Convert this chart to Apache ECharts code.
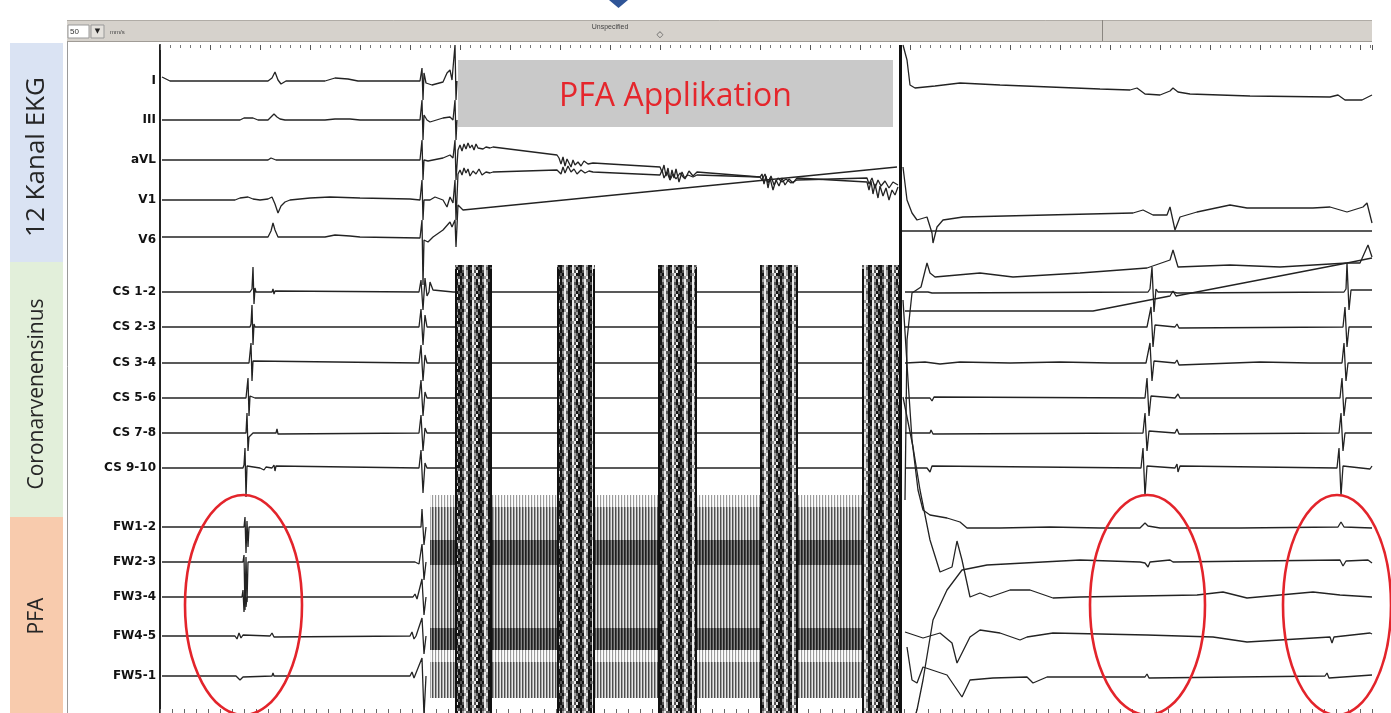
<!DOCTYPE html>
<html><head><meta charset="utf-8">
<script src="https://cdn.jsdelivr.net/npm/echarts@6/dist/echarts.min.js"></script>
<style>html,body{margin:0;padding:0;background:#fff;}#c{width:1391px;height:713px;}</style>
</head><body><div id="c"></div>
<script>
// ---------- DATA (time in ms, amplitude in display units, '-' = gap) ----------
const channelNames = ['I','III','aVL','V1','V6','CS 1-2','CS 2-3','CS 3-4','CS 5-6','CS 7-8','CS 9-10','FW1-2','FW2-3','FW3-4','FW4-5','FW5-1'];
const groupNames = ['12 Kanal EKG','Coronarvenensinus','PFA'];

const ch_I = [[4,4],[20,0],[216,0],[224,3],[230,9],[236,1],[242,-3],[252,0],[330,0],[350,3],[376,2],[396,0],[520,0],[524,13],[526,-19],[528,8],[532,-2],[536,-2],[544,-4],[566,-1],[574,8],[580,11],[584,1],[588,0],[590,36],[592,-19],[594,0],[596,'-'],[1486,36],[1494,21],[1500,-4],[1510,-7],[1550,-5],[1600,-2],[1680,-4],[1780,-6],[1880,-8],[1940,-9],[1954,-7],[1970,-13],[2000,-14],[2020,-10],[2026,-7],[2036,-11],[2060,-13],[2180,-15],[2340,-16],[2356,-14],[2370,-19],[2404,-19],[2424,-14]];
const ch_III = [[4,0],[160,0],[168,2],[186,2],[196,0],[216,0],[222,3],[228,6],[234,3],[240,1],[250,0],[330,0],[350,1],[380,1],[400,0],[520,0],[524,20],[526,-20],[528,5],[534,0],[540,-2],[566,2],[580,3],[586,0],[590,20],[592,-20],[594,0],[596,'-'],[1482,-111],[2424,-111]];
const ch_aVL = [[4,0],[216,0],[222,2],[226,3],[232,0],[520,0],[524,20],[526,-20],[528,0],[536,-1],[566,2],[580,5],[586,2],[590,20],[592,-20],[596,10],[600,15],[604,9],[608,16],[612,11],[616,17],[620,12],[624,15],[628,10],[632,16],[636,12],[640,14],[646,11],[652,13],[660,12],[666,13],[794,5],[798,2],[802,-4],[806,3],[810,-6],[814,1],[818,-3],[822,-7],[826,0],[830,-5],[836,-2],[842,-6],[848,-1],[856,-4],[866,-3],[1000,-7],[1004,-12],[1008,-5],[1012,-16],[1016,-8],[1020,-20],[1024,-10],[1028,-18],[1032,-9],[1038,-22],[1044,-12],[1050,-19],[1058,-11],[1066,-16],[1074,-12],[1200,-17],[1204,-14],[1208,-24],[1212,-16],[1216,-28],[1220,-18],[1226,-30],[1232,-20],[1238,-26],[1244,-18],[1250,-25],[1258,-19],[1266,-23],[1274,-18],[1414,-22],[1418,-30],[1422,-21],[1426,-34],[1430,-24],[1436,-38],[1440,-26],[1446,-36],[1452,-28],[1458,-40],[1464,-30],[1470,-35],[1476,-27],[1478,'-'],[1490,-151],[1866,-151],[2020,-136],[2026,-131],[2032,-136],[2374,-103],[2424,-98]];
const ch_V1 = [[4,0],[150,0],[160,2],[176,3],[186,1],[200,0],[216,1],[224,3],[230,-4],[236,-13],[242,-6],[250,-2],[260,0],[300,2],[340,3],[400,2],[500,1],[520,0],[524,20],[526,-20],[528,0],[540,0],[550,3],[566,0],[574,-7],[580,3],[586,-3],[590,20],[592,-20],[596,26],[600,30],[604,25],[608,32],[612,27],[616,31],[620,24],[626,29],[632,26],[638,31],[644,25],[652,28],[660,27],[666,28],[794,30],[798,32],[802,26],[806,33],[810,27],[816,34],[822,28],[828,31],[834,26],[842,30],[850,27],[858,29],[866,28],[1000,25],[1004,30],[1008,22],[1014,28],[1020,20],[1026,26],[1032,21],[1040,27],[1048,22],[1056,25],[1066,23],[1074,25],[1200,23],[1204,20],[1210,26],[1216,17],[1222,24],[1228,15],[1236,22],[1244,18],[1252,21],[1262,17],[1274,20],[1414,22],[1418,16],[1424,22],[1430,12],[1436,20],[1442,14],[1450,19],[1458,12],[1466,18],[1476,15],[1478,'-'],[1486,33],[1494,0],[1504,-13],[1514,-20],[1534,-17],[1544,-33],[1546,-43],[1554,-27],[1566,-20],[1606,-17],[1774,-15],[1946,-13],[1966,-10],[1986,-15],[2014,-15],[2020,-7],[2030,-30],[2040,-17],[2074,-12],[2140,-5],[2174,-8],[2306,-8],[2340,-7],[2374,-12],[2406,-7],[2414,-3],[2424,-23]];
const ch_V6 = [[4,3],[216,3],[222,9],[226,17],[230,10],[236,3],[240,1],[250,3],[330,3],[350,5],[380,4],[400,3],[520,2],[524,20],[526,-45],[528,0],[536,-2],[546,3],[566,10],[580,18],[584,13],[588,12],[590,20],[592,-7],[596,35],[606,30],[1474,73],[1478,'-'],[1490,-260],[1494,-100],[1504,-53],[1522,-47],[1534,-23],[1540,-33],[1550,-37],[1640,-33],[1706,-37],[1840,-33],[1974,-28],[2020,-20],[2026,-10],[2036,-27],[2140,-25],[2240,-27],[2374,-23],[2400,-23],[2416,-5],[2424,-17]];
const ch_CS12 = [[4,0],[180,0],[184,3],[186,25],[188,-12],[190,4],[192,0],[224,0],[226,3],[228,-2],[230,1],[234,0],[518,0],[522,12],[526,-18],[530,14],[534,-4],[538,0],[540,10],[546,2],[586,0],[1476,0],[1478,'-'],[1490,0],[1536,0],[1540,2],[1544,-1],[1548,0],[1976,0],[1980,3],[1984,25],[1988,-20],[1992,3],[1996,0],[2026,0],[2030,2],[2034,-1],[2038,0],[2368,0],[2372,3],[2374,29],[2378,-18],[2382,2],[2386,0],[2424,2]];
const ch_CS23 = [[4,0],[180,0],[182,3],[184,22],[186,-18],[188,3],[190,0],[228,0],[230,2],[232,-1],[234,0],[518,0],[522,18],[526,-18],[530,12],[534,0],[1476,0],[1478,'-'],[1490,0],[1974,0],[1978,2],[1982,20],[1986,-20],[1990,2],[1994,0],[2030,0],[2034,3],[2038,-1],[2040,0],[2366,0],[2370,20],[2374,-20],[2378,0],[2424,0]];
const ch_CS34 = [[4,0],[178,0],[180,2],[182,20],[184,-18],[186,2],[188,0],[518,0],[522,18],[526,-18],[530,8],[534,0],[1476,0],[1478,'-'],[1490,0],[1530,1],[1560,-1],[1600,1],[1700,0],[1800,1],[1900,0],[1972,0],[1976,2],[1980,20],[1984,-18],[1988,2],[1992,0],[2030,0],[2034,3],[2038,-2],[2042,0],[2200,1],[2300,0],[2364,0],[2368,20],[2372,-18],[2376,0],[2424,0]];
const ch_CS56 = [[4,0],[172,0],[174,2],[176,20],[178,-18],[180,2],[182,0],[190,0],[192,2],[194,0],[518,0],[522,18],[526,-18],[530,6],[534,0],[1476,0],[1478,'-'],[1490,0],[1540,0],[1544,-3],[1548,1],[1552,0],[1970,0],[1974,20],[1978,-18],[1982,2],[1986,0],[2030,0],[2034,-2],[2036,4],[2040,0],[2360,0],[2364,20],[2368,-18],[2372,0],[2424,0]];
const ch_CS78 = [[4,0],[172,0],[174,20],[176,-18],[178,-4],[182,-2],[186,0],[232,0],[234,4],[236,-1],[238,0],[518,0],[522,18],[526,-18],[530,5],[534,0],[1476,0],[1478,'-'],[1490,0],[1540,0],[1542,3],[1546,-1],[1550,0],[1966,0],[1970,20],[1974,-18],[1978,2],[1982,0],[2030,0],[2034,4],[2038,-1],[2042,0],[2358,0],[2362,20],[2366,-18],[2370,0],[2424,0]];
const ch_CS910 = [[4,0],[166,0],[168,3],[170,20],[172,-29],[174,2],[176,0],[200,0],[204,1],[208,-2],[212,1],[216,0],[224,0],[228,3],[230,-3],[232,2],[236,0],[518,0],[522,18],[526,-25],[530,5],[534,0],[1476,0],[1478,'-'],[1490,0],[1534,0],[1540,-4],[1544,2],[1548,0],[1962,0],[1966,20],[1970,-28],[1974,2],[1978,0],[2030,0],[2034,4],[2036,-4],[2040,2],[2044,0],[2354,0],[2358,20],[2362,-28],[2366,2],[2370,0],[2420,-1],[2424,2]];
const ch_FW12 = [[4,0],[168,0],[170,10],[172,-26],[174,6],[176,-20],[178,0],[516,0],[522,0],[524,18],[528,-18],[532,0],[536,'-'],[1486,227],[1496,147],[1504,87],[1516,37],[1526,17],[1540,12],[1574,9],[1600,5],[1614,-1],[1680,-1],[1780,0],[1880,-1],[1960,-1],[1970,4],[1976,1],[2000,-1],[2160,-1],[2356,0],[2362,5],[2368,0],[2424,-1]];
const ch_FW23 = [[4,0],[166,0],[168,7],[170,-48],[172,5],[174,-40],[176,0],[224,0],[226,2],[228,-1],[230,0],[510,0],[514,2],[518,-2],[520,0],[524,18],[528,-18],[532,0],[536,'-'],[1506,-160],[1514,-148],[1526,-118],[1546,-58],[1574,-28],[1604,-8],[1654,-3],[1840,2],[1960,0],[1970,-1],[1976,-5],[1980,0],[2020,2],[2026,0],[2360,2],[2366,-4],[2372,1],[2416,2],[2424,-1]];
const ch_FW34 = [[4,0],[164,0],[166,7],[168,-15],[170,5],[172,-10],[174,0],[226,0],[228,2],[230,-1],[232,0],[506,0],[510,3],[514,-2],[518,0],[524,18],[528,-18],[532,0],[536,'-'],[1486,200],[1506,150],[1520,107],[1540,57],[1560,25],[1584,30],[1594,56],[1604,37],[1620,0],[1640,4],[1660,0],[1700,7],[1740,7],[1786,-1],[1840,0],[2074,2],[2126,5],[2174,-1],[2306,5],[2360,2],[2424,0]];
const ch_FW45 = [[4,0],[150,0],[154,-3],[158,3],[162,-2],[166,1],[170,0],[220,0],[224,3],[228,-1],[230,0],[500,0],[504,4],[508,-3],[512,0],[524,18],[528,-18],[532,0],[536,'-'],[1490,4],[1526,-2],[1560,3],[1584,-7],[1594,-27],[1620,-1],[1640,6],[1680,3],[1720,-4],[1734,-1],[1786,3],[1974,1],[2106,-1],[2174,-6],[2340,-1],[2344,-7],[2348,-1],[2420,3],[2424,2]];
const ch_FW51 = [[4,0],[152,0],[156,-2],[160,-4],[166,-1],[170,0],[224,0],[226,3],[228,0],[500,0],[504,4],[508,-2],[512,0],[524,18],[528,-40],[532,0],[536,'-'],[1494,29],[1504,-4],[1514,-7],[1526,9],[1574,1],[1604,-21],[1620,-4],[1666,-2],[1734,-1],[1746,-7],[1774,-1],[1970,-1],[1974,2],[1978,-2],[1982,0],[2330,0],[2334,3],[2338,-2],[2342,0],[2424,1]];

// PFA pulse trains and interleaved field-noise intervals (ms)
const pulseTrains = [[590,664],[794,870],[996,1074],[1200,1276],[1404,1484]];
const fieldNoise = [[540,590],[664,794],[870,996],[1074,1200],[1276,1404]];
const markerTime = 1480;   // vertical marker (end of application)
const applicationSpan = [596,1466]; // "PFA Applikation" label span (ms)
// annotation ellipses: [centre ms, half-width ms, centre row, half-height rows]
const ellipses = [[167,117,560,110],[1975,115,560,110],[2354,108,560,110]];

// ---------- LAYOUT ----------
const rowPos = [36,75,115,155,195,247,282,318,353,388,423,482,517,552,591,631];
const Y_MAX = 668, T_MAX = 2424;

const traces = [ch_I,ch_III,ch_aVL,ch_V1,ch_V6,ch_CS12,ch_CS23,ch_CS34,ch_CS56,ch_CS78,ch_CS910,ch_FW12,ch_FW23,ch_FW34,ch_FW45,ch_FW51];

function stripePattern(map, colors, sx, sy){
  sx = sx || 1; sy = sy || 1;
  const h = map.length, w = map[0].length;
  const c = document.createElement('canvas'); c.width = w*sx; c.height = h*sy;
  const ctx = c.getContext('2d');
  for (let y=0;y<h;y++) for (let x=0;x<w;x++){ ctx.fillStyle = colors[map[y][x]]; ctx.fillRect(x*sx,y*sy,sx,sy); }
  return {image:c, repeat:'repeat'};
}
const burstPat = stripePattern(['DmWLDDWmLD','DLWmDmWLDm','DmWLDDWmWD','mDWLDmLWDD','DmLWDDWmLm','DLWmmDWLDW','DmWLDmWmDL','mDLWDDWLmD'],
  {D:'#141414',m:'#565656',L:'#9c9c9c',W:'#ececec'}, 2, 3);
const fieldMid = stripePattern(['abc'],{a:'#4e4e4e',b:'#a2a2a2',c:'#e6e6e6'});
const fieldDark = stripePattern(['abc'],{a:'#1e1e1e',b:'#464646',c:'#888888'});
const fieldLight = stripePattern(['abc'],{a:'#9c9c9c',b:'#eeeeee',c:'#ffffff'});

const series = traces.map((tr,i)=>({
  type:'line', name:channelNames[i], xAxisIndex:0, yAxisIndex:0,
  data: tr.map(p => p[1]==='-' ? [p[0],'-'] : [p[0], rowPos[i]-p[1]]),
  showSymbol:false, symbol:'none', silent:true, z:2, connectNulls:false,
  lineStyle:{color:'#232323', width:1.3}
}));
series[0].markLine = {symbol:'none', silent:true, label:{show:false},
  lineStyle:{color:'#111', width:3, type:'solid'}, data:[{xAxis:markerTime}]};

// field noise between trains (PFA catheter channels)
series.push({type:'custom', silent:true, z:3, data:fieldNoise, encode:{x:[0,1]},
  renderItem:(p,api)=>{
    const t0=api.value(0), t1=api.value(1);
    const band=(a,b,fill)=>{const A=api.coord([t0,a]),B=api.coord([t1,b]);
      return {type:'rect',shape:{x:A[0],y:A[1],width:B[0]-A[0],height:B[1]-A[1]},style:{fill}};};
    return {type:'group',children:[
      band(rowPos[11]-32, rowPos[15]+22, fieldMid),
      band(rowPos[11]-32, rowPos[11]-20, fieldLight),
      band(rowPos[12]-22, rowPos[12]+3, fieldDark),
      band(rowPos[14]-8, rowPos[14]+14, fieldDark),
      band(rowPos[14]+14, rowPos[14]+26, fieldLight)
    ]};
  }});
// pulse trains
series.push({type:'custom', silent:true, z:4, data:pulseTrains, encode:{x:[0,1]},
  renderItem:(p,api)=>{
    const A=api.coord([api.value(0), rowPos[5]-27]), B=api.coord([api.value(1), Y_MAX]);
    const edge=(x)=>({type:'line',shape:{x1:x,y1:A[1]+4,x2:x,y2:B[1]},style:{stroke:'#111',lineWidth:2}});
    return {type:'group',children:[
      {type:'rect',shape:{x:A[0],y:A[1],width:B[0]-A[0],height:B[1]-A[1]},style:{fill:burstPat}},
      edge(A[0]+1), edge(B[0]-1)
    ]};
  }});
// application label box
series.push({type:'custom', silent:true, z:6, data:[[applicationSpan[0],applicationSpan[1]]], encode:{x:[0,1]},
  renderItem:(p,api)=>{
    const A=api.coord([api.value(0),15]), B=api.coord([api.value(1),82]);
    return {type:'group',children:[
      {type:'rect',shape:{x:A[0],y:A[1],width:B[0]-A[0],height:B[1]-A[1]},style:{fill:'#c9c9c9'}},
      {type:'text',x:(A[0]+B[0])/2,y:(A[1]+B[1])/2+3,style:{text:'PFA Applikation',fill:'#e5262c',
        font:'32px "Open Sans"',align:'center',verticalAlign:'middle'}}
    ]};
  }});
// channel labels
series.push({type:'custom', silent:true, z:5, data:channelNames.map((n,i)=>[0,rowPos[i],i]), encode:{x:0,y:1},
  renderItem:(p,api)=>{
    const c=api.coord([api.value(0),api.value(1)]);
    return {type:'text',x:c[0]-4,y:c[1],style:{text:channelNames[api.value(2)],fill:'#111',
      font:'bold 12px "DejaVu Sans"',align:'right',verticalAlign:'middle'}};
  }});
// ellipses
series.push({type:'custom', silent:true, z:7, data:ellipses, encode:{x:0,y:2},
  renderItem:(p,api)=>{
    const c=api.coord([api.value(0),api.value(2)]);
    const s=api.size([api.value(1),api.value(3)]);
    return {type:'ellipse',shape:{cx:c[0],cy:c[1],rx:Math.abs(s[0]),ry:Math.abs(s[1])},
      style:{fill:null,stroke:'#e3242b',lineWidth:2.6}};
  }});

const rot = Math.PI/2;
const option = {
  animation:false,
  backgroundColor:'#ffffff',
  grid:{left:160, top:45, width:1212, height:668, containLabel:false},
  xAxis:[
    {type:'value', position:'top', min:0, max:T_MAX, interval:100,
     axisLine:{show:false}, axisLabel:{show:false}, splitLine:{show:false},
     axisTick:{show:true, inside:true, length:5, lineStyle:{color:'#555'}},
     minorTick:{show:true, splitNumber:5, length:3, lineStyle:{color:'#777'}}},
    {type:'value', position:'bottom', min:0, max:T_MAX, interval:24,
     axisLine:{show:false}, axisLabel:{show:false}, splitLine:{show:false},
     axisTick:{show:true, inside:true, length:4, lineStyle:{color:'#666'}}}
  ],
  yAxis:{type:'value', inverse:true, min:0, max:Y_MAX, axisLabel:{show:false}, splitLine:{show:false},
    axisTick:{show:false}, axisLine:{show:true, lineStyle:{color:'#222', width:2}}},
  graphic:[
    {type:'rect', shape:{x:10,y:43,width:53,height:219}, style:{fill:'#dae3f3'}, z:1},
    {type:'rect', shape:{x:10,y:262,width:53,height:255}, style:{fill:'#e2efda'}, z:1},
    {type:'rect', shape:{x:10,y:517,width:53,height:196}, style:{fill:'#f8cbad'}, z:1},
    {type:'text', x:37, y:157, rotation:rot, style:{text:groupNames[0], font:'26px "Open Sans"', fill:'#262626', align:'center', verticalAlign:'middle'}, z:2},
    {type:'text', x:37, y:394, rotation:rot, style:{text:groupNames[1], font:'21px "Open Sans"', fill:'#262626', align:'center', verticalAlign:'middle'}, z:2},
    {type:'text', x:37, y:616, rotation:rot, style:{text:groupNames[2], font:'21px "Open Sans"', fill:'#262626', align:'center', verticalAlign:'middle'}, z:2},
    {type:'line', shape:{x1:67.5,y1:20,x2:67.5,y2:713}, style:{stroke:'#9a9a9a', lineWidth:1}, z:1},
    {type:'rect', shape:{x:67,y:20,width:1305,height:22}, style:{fill:'#d6d2cc'}, z:1},
    {type:'line', shape:{x1:67,y1:20.5,x2:1372,y2:20.5}, style:{stroke:'#b0aca6', lineWidth:1}, z:2},
    {type:'line', shape:{x1:67,y1:41.5,x2:1372,y2:41.5}, style:{stroke:'#a09c96', lineWidth:1}, z:2},
    {type:'rect', shape:{x:68,y:25,width:21,height:13}, style:{fill:'#fff', stroke:'#999', lineWidth:1}, z:2},
    {type:'text', x:70, y:31.5, style:{text:'50', font:'8px "Liberation Sans"', fill:'#333', verticalAlign:'middle'}, z:3},
    {type:'rect', shape:{x:91,y:25,width:13,height:13}, style:{fill:'#e4e1dc', stroke:'#999', lineWidth:1}, z:2},
    {type:'text', x:97.5, y:31.5, style:{text:'▼', font:'7px "DejaVu Sans"', fill:'#222', align:'center', verticalAlign:'middle'}, z:3},
    {type:'text', x:110, y:32, style:{text:'mm/s', font:'6px "Liberation Sans"', fill:'#444', verticalAlign:'middle'}, z:3},
    {type:'text', x:610, y:27, style:{text:'Unspecified', font:'7px "Liberation Sans"', fill:'#444', align:'center', verticalAlign:'middle'}, z:3},
    {type:'text', x:660, y:35, style:{text:'◇', font:'9px "DejaVu Sans"', fill:'#555', align:'center', verticalAlign:'middle'}, z:3},
    {type:'line', shape:{x1:1102.5,y1:20,x2:1102.5,y2:41}, style:{stroke:'#8a8680', lineWidth:1}, z:3},
    {type:'polygon', shape:{points:[[609,0],[628,0],[618.5,8]]}, style:{fill:'#2f5597'}, z:3}
  ],
  series
};
const chart = echarts.init(document.getElementById('c'));
chart.setOption(option);
</script></body></html>
